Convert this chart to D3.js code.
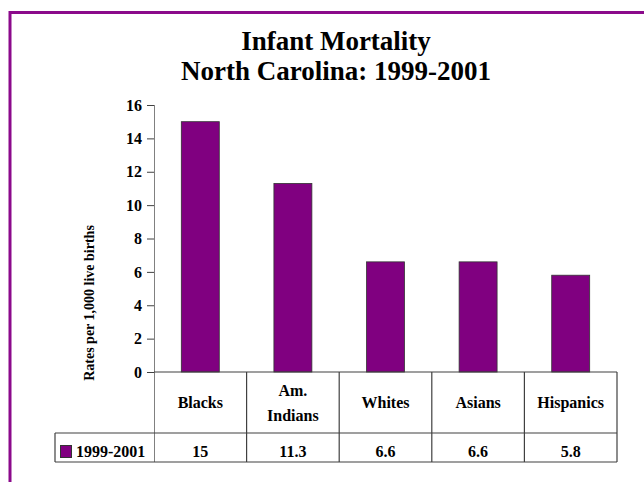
<!DOCTYPE html>
<html>
<head>
<meta charset="utf-8">
<script src="https://cdn.jsdelivr.net/npm/d3@7"></script>
<style>
  body { margin: 0; background: #fff; }
  svg { display: block; font-family: "Liberation Serif", "Times New Roman", serif; font-weight: bold; }
</style>
</head>
<body>
<div id="chart"></div>
<script>
var categories = ["Blacks", "Am. Indians", "Whites", "Asians", "Hispanics"];
var categoryLines = [["Blacks"], ["Am.", "Indians"], ["Whites"], ["Asians"], ["Hispanics"]];
var seriesName = "1999-2001";
var values = [15, 11.3, 6.6, 6.6, 5.8];
var valueLabels = ["15", "11.3", "6.6", "6.6", "5.8"];
var yTickValues = [0, 2, 4, 6, 8, 10, 12, 14, 16];
var titleLines = ["Infant Mortality", "North Carolina: 1999-2001"];
var yTitle = "Rates per 1,000 live births";

var W = 644, H = 482
    , purple = "#800080"
    , frameColor = "#8b0a8b"
    , lineColor = "#404040";

var svg = d3.select("#chart").append("svg")
    .attr("width", W)
    .attr("height", H);

// chart frame (only top and left visible)
svg.append("path")
    .attr("d", "M10,482 V12.5 H644")
    .attr("fill", "none")
    .attr("stroke", frameColor)
    .attr("stroke-width", 3);

var plot = {left: 154, right: 617, top: 105, bottom: 372}
    , headerBottom = 433
    , tableBottom = 462
    , legendLeft = 55;

var x = d3.scaleBand()
    .domain(categories)
    .range([plot.left, plot.right])
    .padding(0);

var y = d3.scaleLinear()
    .domain([0, 16])
    .range([plot.bottom, plot.top]);

// title
svg.append("g").selectAll("text")
    .data(titleLines)
    .enter().append("text")
    .attr("x", 336)
    .attr("y", (d, i) => 50 + i * 30)
    .attr("text-anchor", "middle")
    .attr("font-size", 27)
    .attr("fill", "#000")
    .text(d => d);

// y axis title
svg.append("text")
    .attr("transform", "translate(94,303) rotate(-90)")
    .attr("text-anchor", "middle")
    .attr("font-size", 14)
    .text(yTitle);

// bars
var barW = x.bandwidth() * 0.41;
svg.append("g").selectAll("rect")
    .data(values)
    .enter().append("rect")
    .attr("x", (d, i) => x(categories[i]) + (x.bandwidth() - barW) / 2)
    .attr("y", d => y(d))
    .attr("width", barW)
    .attr("height", d => y(0) - y(d))
    .attr("fill", purple)
    .attr("stroke", "#333")
    .attr("stroke-width", 0.8);

// y axis
var yAxis = d3.axisLeft(y)
    .tickValues(yTickValues)
    .tickSizeInner(7)
    .tickSizeOuter(0)
    .tickPadding(5);

var gy = svg.append("g")
    .attr("transform", "translate(" + plot.left + ",0)")
    .call(yAxis);
gy.select(".domain").remove();
gy.selectAll(".tick line").attr("stroke", lineColor);
gy.selectAll(".tick text")
    .attr("font-size", 16)
    .attr("font-family", "Liberation Serif")
    .attr("font-weight", "bold")
    .attr("fill", "#000");

// axis line down through the header row
svg.append("line")
    .attr("x1", plot.left + 0.5).attr("x2", plot.left + 0.5)
    .attr("y1", plot.top).attr("y2", tableBottom)
    .attr("stroke", "#808080");

// data table grid
var grid = svg.append("g")
    .attr("fill", "none")
    .attr("stroke", lineColor)
    .attr("stroke-width", 1.2);

grid.append("line")
    .attr("x1", plot.left).attr("x2", plot.right)
    .attr("y1", plot.bottom).attr("y2", plot.bottom);
grid.append("line")
    .attr("x1", legendLeft).attr("x2", plot.right)
    .attr("y1", headerBottom).attr("y2", headerBottom);
grid.append("line")
    .attr("x1", legendLeft).attr("x2", plot.right)
    .attr("y1", tableBottom).attr("y2", tableBottom);
grid.append("line")
    .attr("x1", legendLeft).attr("x2", legendLeft)
    .attr("y1", headerBottom).attr("y2", tableBottom);
grid.selectAll(".col")
    .data(categories)
    .enter().append("line")
    .attr("class", "col")
    .attr("x1", d => x(d) + x.bandwidth())
    .attr("x2", d => x(d) + x.bandwidth())
    .attr("y1", plot.bottom)
    .attr("y2", tableBottom);

// header row labels
var hdr = svg.append("g").selectAll("text")
    .data(categoryLines)
    .enter().append("text")
    .attr("text-anchor", "middle")
    .attr("font-size", 16)
    .attr("x", (d, i) => x(categories[i]) + x.bandwidth() / 2)
    .attr("y", d => d.length > 1 ? 396 : 408);
hdr.selectAll("tspan")
    .data((d, i) => d.map(s => ({s: s, i: i})))
    .enter().append("tspan")
    .attr("x", d => x(categories[d.i]) + x.bandwidth() / 2)
    .attr("dy", (d, j) => j ? 25 : 0)
    .text(d => d.s);

// value row
svg.append("g").selectAll("text")
    .data(valueLabels)
    .enter().append("text")
    .attr("text-anchor", "middle")
    .attr("font-size", 16)
    .attr("x", (d, i) => x(categories[i]) + x.bandwidth() / 2)
    .attr("y", 457)
    .text(d => d);

// legend key
svg.append("rect")
    .attr("x", 60.5).attr("y", 445.5)
    .attr("width", 11).attr("height", 12)
    .attr("fill", purple)
    .attr("stroke", "#333");
svg.append("text")
    .attr("x", 76)
    .attr("y", 457)
    .attr("font-size", 16)
    .text(seriesName);
</script>
</body>
</html>
